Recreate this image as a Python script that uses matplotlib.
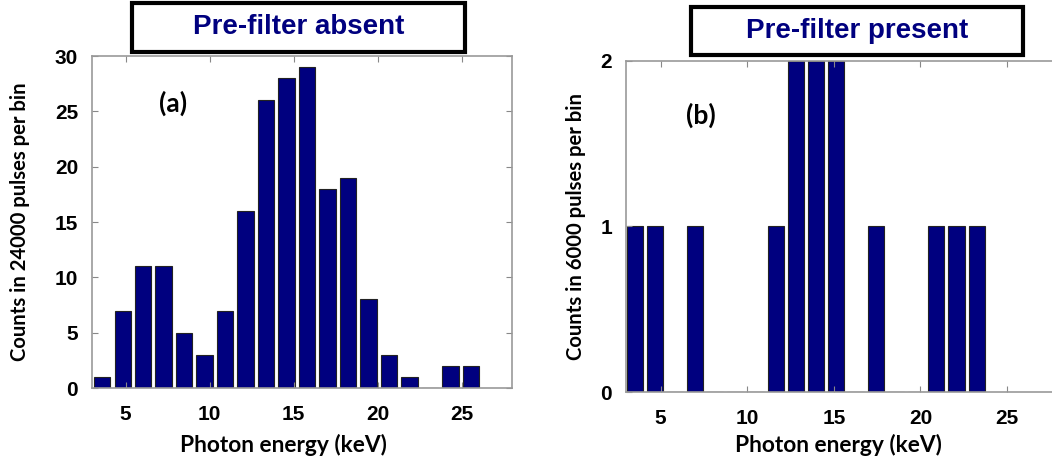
import matplotlib
matplotlib.use("Agg")
import matplotlib.pyplot as plt
import numpy as np

# histogram (a): pre-filter absent, 24000 pulses
centers_a = 3.61 + 1.219 * np.arange(19)
counts_a = [1, 7, 11, 11, 5, 3, 7, 16, 26, 28, 29, 18, 19, 8, 3, 1, 0, 2, 2]

# histogram (b): pre-filter present, 6000 pulses
centers_b = 3.52 + 1.16 * np.arange(18)
counts_b = [1, 1, 0, 1, 0, 0, 0, 1, 2, 2, 2, 0, 1, 0, 0, 1, 1, 1]

xticks = [5, 10, 15, 20, 25]
titles = ["Pre-filter absent", "Pre-filter present"]

navy = "#00007f"
label_font = "Lato"
tick_font = "Liberation Sans"

fig = plt.figure(figsize=(10.52, 4.61), dpi=100)
W, H = 1052., 461.


def box(x0, y0, x1, y1):
    # pixel box (top-left origin) -> figure fraction rect
    return [x0 / W, 1 - y1 / H, (x1 - x0) / W, (y1 - y0) / H]


def setup(ax, ylim, yticks, ylabel, ylab_x, xlab_x):
    ax.set_xlim(3, 28)
    ax.set_ylim(*ylim)
    ax.set_xticks(xticks)
    ax.set_yticks(yticks)
    ax.tick_params(direction="in", top=True, right=True, length=4,
                   color="#888888", pad=10, labelsize=15)
    ax.tick_params(axis="x", pad=12)
    for lab in ax.get_xticklabels() + ax.get_yticklabels():
        lab.set_fontfamily(tick_font)
        lab.set_fontweight("bold")
    for s in ax.spines.values():
        s.set_color("#999999")
        s.set_linewidth(1.2)
    bb = ax.get_position()
    ax.set_xlabel("Photon energy (keV)", fontsize=16.4, fontweight="bold",
                  family=label_font)
    ax.xaxis.set_label_coords(xlab_x / W, 1 - 434. / H,
                              transform=fig.transFigure)
    ax.set_ylabel(ylabel, fontsize=14.6, fontweight="bold", family=label_font)
    ax.yaxis.set_label_coords(ylab_x / W, bb.y0 + bb.height / 2,
                              transform=fig.transFigure)


# panel (a)
ax1 = fig.add_axes(box(92, 56, 512, 388))
ax1.bar(centers_a, counts_a, width=1.219 * 0.8, color=navy,
        edgecolor="#222222", linewidth=0.8)
setup(ax1, (0, 30), [0, 5, 10, 15, 20, 25, 30],
      "Counts in 24000 pulses per bin", 30, 283)
ax1.text(7.8, 25.75, "(a)", fontsize=19, fontweight="bold",
         family=label_font, ha="center", va="center")

# panel (b) -- right edge runs past the image
ax2 = fig.add_axes(box(626, 61, 1059, 392))
ax2.bar(centers_b, counts_b, width=1.16 * 0.8, color=navy,
        edgecolor="#222222", linewidth=0.8)
setup(ax2, (0, 2), [0, 1, 2], "Counts in 6000 pulses per bin", 586, 838)
ax2.text(7.3, 1.67, "(b)", fontsize=19, fontweight="bold",
         family=label_font, ha="center", va="center")

# title boxes
for (x0, y0, x1, y1), t in zip([(132, 3, 465, 52), (691, 7, 1023, 55)],
                               titles):
    r = box(x0, y0, x1, y1)
    fig.patches.append(plt.Rectangle((r[0], r[1]), r[2], r[3],
                                     transform=fig.transFigure,
                                     facecolor="white", edgecolor="black",
                                     linewidth=3, zorder=5))
    fig.text(r[0] + r[2] / 2, r[1] + r[3] / 2, t, color=navy, fontsize=20,
             fontweight="bold", family=tick_font, ha="center",
             va="center", zorder=6)

fig.savefig("out.png", dpi=100)
